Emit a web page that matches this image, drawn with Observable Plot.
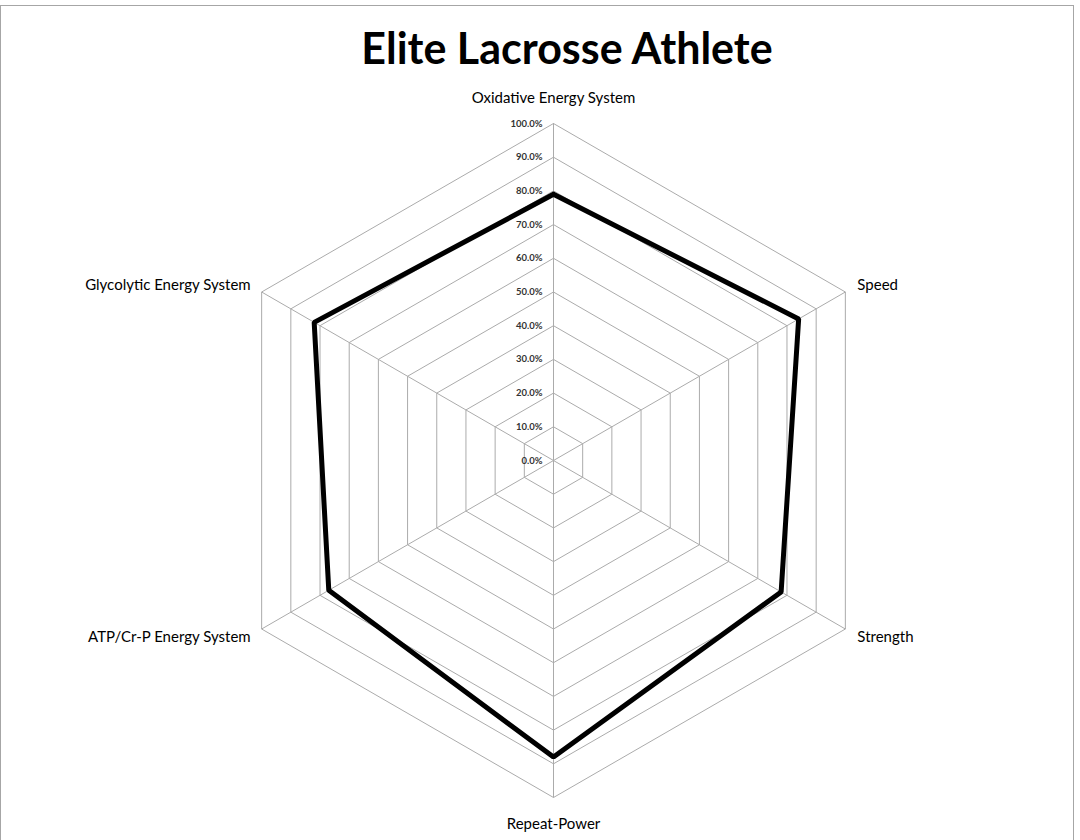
<!DOCTYPE html>
<html>
<head>
<meta charset="utf-8">
<script src="https://cdn.jsdelivr.net/npm/d3@7"></script>
<script src="https://cdn.jsdelivr.net/npm/@observablehq/plot@0.6"></script>
<style>
  html, body { margin: 0; padding: 0; background: #fff; }
  #frame { position: relative; width: 1080px; height: 840px; overflow: hidden; background: #fff; }
  #border { position: absolute; left: 0; top: 5px; width: 1074px; height: 840px; border: 1px solid #a6a6a6; box-sizing: border-box; pointer-events: none; }
  #title { position: absolute; left: 27px; top: 13px; width: 1080px; height: 70px; text-align: center;
           font-family: Lato, "Open Sans", sans-serif; font-weight: 700; font-size: 43px; line-height: 70px; color: #000; }
  #chart { position: absolute; left: 0; top: 70px; }
</style>
</head>
<body>
<div id="frame">
  <div id="title">Elite Lacrosse Athlete</div>
  <div id="chart"></div>
  <div id="border"></div>
</div>
<script>
const categories = ["Oxidative Energy System", "Speed", "Strength", "Repeat-Power", "ATP/Cr-P Energy System", "Glycolytic Energy System"];
const values = [79, 84, 78, 88, 77, 82];
const tickValues = [0, 10, 20, 30, 40, 50, 60, 70, 80, 90, 100];
const tickLabels = ["0.0%", "10.0%", "20.0%", "30.0%", "40.0%", "50.0%", "60.0%", "70.0%", "80.0%", "90.0%", "100.0%"];

const n = categories.length;
const angle = i => Math.PI / 2 - i * 2 * Math.PI / n;
const px = (i, r) => r * Math.cos(angle(i));
const py = (i, r) => r * Math.sin(angle(i));

// grid rings
const rings = [];
for (const t of tickValues.slice(1)) {
  for (let i = 0; i <= n; i++) rings.push({ring: t, x: px(i % n, t), y: py(i % n, t)});
}
// spokes
const spokes = categories.map((c, i) => ({x1: 0, y1: 0, x2: px(i, 100), y2: py(i, 100)}));
// data polygon
const poly = [];
for (let i = 0; i <= n; i++) poly.push({x: px(i % n, values[i % n]), y: py(i % n, values[i % n])});
// tick labels
const ticks = tickValues.map((t, k) => ({x: 0, y: t, label: tickLabels[k]}));
// category labels
const labelPos = [
  {dx: 0, dy: -25, anchor: "middle"},
  {dx: 12, dy: -7, anchor: "start"},
  {dx: 12, dy: 8, anchor: "start"},
  {dx: 0, dy: 27, anchor: "middle"},
  {dx: -11, dy: 8, anchor: "end"},
  {dx: -11, dy: -7, anchor: "end"}
];
const cats = categories.map((c, i) => ({x: px(i, 100), y: py(i, 100), label: c, ...labelPos[i]}));

const S = 3.37; // px per percent
const W = 1080, H = 770, cx = 553, cy = 390;

const chart = Plot.plot({
  width: W,
  height: H,
  margin: 0,
  style: {background: "transparent", fontFamily: "Lato, 'Open Sans', sans-serif"},
  x: {domain: [-cx / S, (W - cx) / S], range: [0, W], axis: null},
  y: {domain: [-(H - cy) / S, cy / S], range: [H, 0], axis: null},
  marks: [
    Plot.line(rings, {x: "x", y: "y", z: "ring", stroke: "#ababab", strokeWidth: 1}),
    Plot.link(spokes, {x1: "x1", y1: "y1", x2: "x2", y2: "y2", stroke: "#ababab", strokeWidth: 1}),
    Plot.line(poly, {x: "x", y: "y", stroke: "#000", strokeWidth: 5, strokeLinejoin: "miter", curve: "linear"}),
    Plot.text(ticks, {x: "x", y: "y", text: "label", textAnchor: "end", dx: -11, fontSize: 9.5, fontWeight: 700, fill: "#333"}),
    ...cats.map(d => Plot.text([d], {x: "x", y: "y", text: "label", textAnchor: d.anchor, dx: d.dx, dy: d.dy, fontSize: 15, fill: "#000"}))
  ]
});
document.getElementById("chart").appendChild(chart);
</script>
</body>
</html>
